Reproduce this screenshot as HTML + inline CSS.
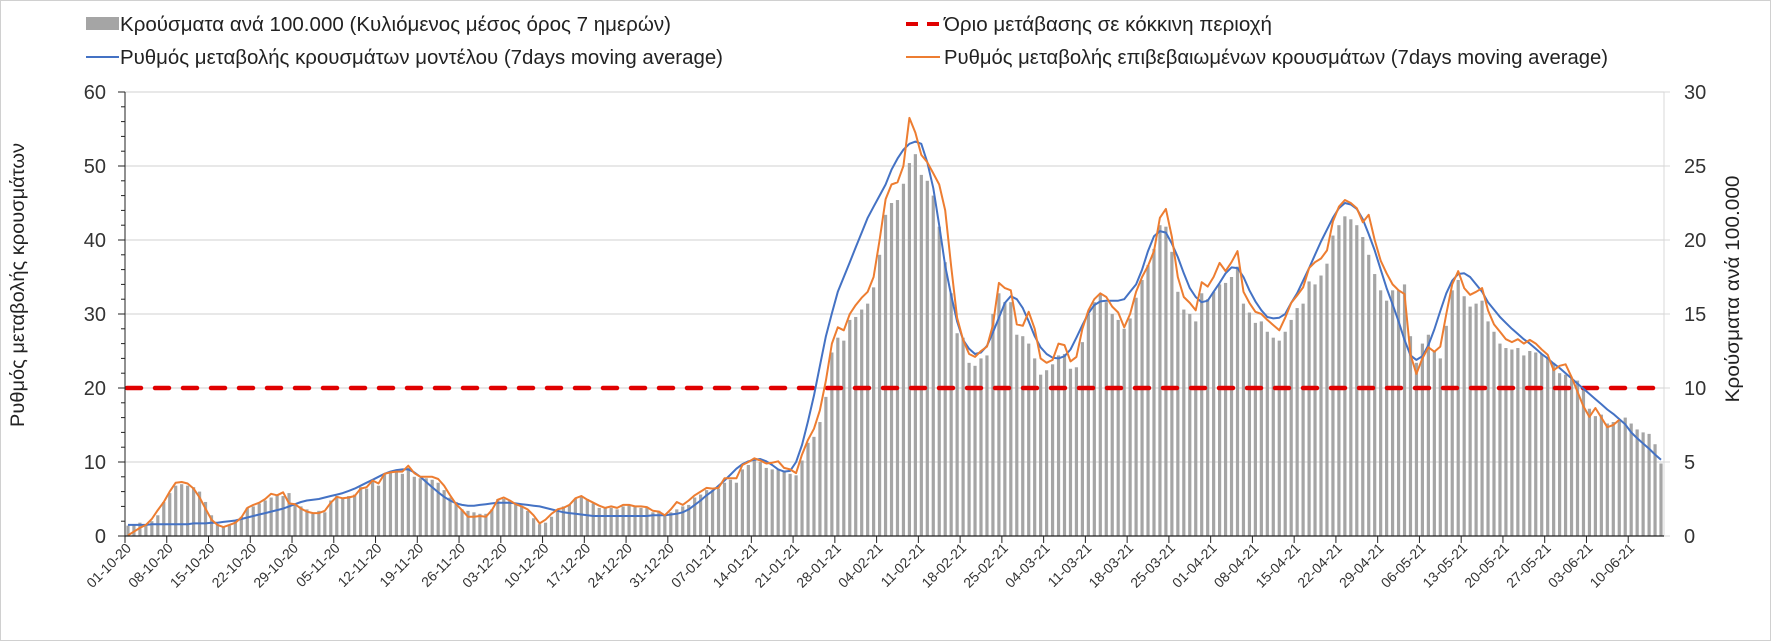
<!DOCTYPE html>
<html><head><meta charset="utf-8">
<style>
html,body{margin:0;padding:0;background:#fff;}
svg{display:block;font-family:"Liberation Sans","DejaVu Sans",sans-serif;}
</style></head>
<body>
<svg id="chart" width="1771" height="641" viewBox="0 0 1771 641" xmlns="http://www.w3.org/2000/svg">
<rect x="0.5" y="0.5" width="1770" height="640" fill="#fff" stroke="#d0d0d0"/>
<g id="legend">
 <g>
  <rect x="86" y="17" width="33" height="13" fill="#a5a5a5"/>
  <text x="120" y="31" font-size="20" textLength="551" lengthAdjust="spacingAndGlyphs" fill="#222">Κρούσματα ανά 100.000 (Κυλιόμενος μέσος όρος 7 ημερών)</text>
 </g>
 <g>
  <line x1="906" y1="24" x2="940" y2="24" stroke="#e00000" stroke-width="4" stroke-dasharray="12,9"/>
  <text x="944" y="31" font-size="20" textLength="328" lengthAdjust="spacingAndGlyphs" fill="#222">Όριο μετάβασης σε κόκκινη περιοχή</text>
 </g>
 <g>
  <line x1="86" y1="57" x2="119" y2="57" stroke="#4472c4" stroke-width="2"/>
  <text x="120" y="64" font-size="20" textLength="603" lengthAdjust="spacingAndGlyphs" fill="#222">Ρυθμός μεταβολής κρουσμάτων μοντέλου (7days moving average)</text>
 </g>
 <g>
  <line x1="906" y1="57" x2="940" y2="57" stroke="#ed7d31" stroke-width="2"/>
  <text x="944" y="64" font-size="20" textLength="664" lengthAdjust="spacingAndGlyphs" fill="#222">Ρυθμός μεταβολής επιβεβαιωμένων κρουσμάτων (7days moving average)</text>
 </g>
</g>
<text transform="translate(24,285) rotate(-90)" text-anchor="middle" font-size="19" textLength="284" lengthAdjust="spacingAndGlyphs" fill="#222">Ρυθμός μεταβολής κρουσμάτων</text>
<text transform="translate(1739,289) rotate(-90)" text-anchor="middle" font-size="19" textLength="227" lengthAdjust="spacingAndGlyphs" fill="#222">Κρούσματα ανά 100.000</text>
<g id="grid"></g>
<g id="bars"></g>
<g id="lines"></g>
<g id="axes"></g>
</svg>
<script>
const leftTicks=[0,10,20,30,40,50,60];
const rightTicks=[0,5,10,15,20,25,30];
const dateLabels=["01-10-20","08-10-20","15-10-20","22-10-20","29-10-20","05-11-20","12-11-20","19-11-20","26-11-20","03-12-20","10-12-20","17-12-20","24-12-20","31-12-20","07-01-21","14-01-21","21-01-21","28-01-21","04-02-21","11-02-21","18-02-21","25-02-21","04-03-21","11-03-21","18-03-21","25-03-21","01-04-21","08-04-21","15-04-21","22-04-21","29-04-21","06-05-21","13-05-21","20-05-21","27-05-21","03-06-21","10-06-21"];
const redThreshold=20;
const casesPer100k=[0.7,0.8,0.9,0.8,1.0,1.4,2.3,
2.9,3.4,3.5,3.4,3.3,3.0,2.3,
1.4,0.8,0.6,0.7,1.0,1.3,1.9,
2.0,2.2,2.4,2.6,2.8,2.7,2.9,
2.2,2.0,1.8,1.5,1.7,1.6,2.4,
2.7,2.6,2.7,2.8,3.3,3.2,3.7,
3.4,4.2,4.3,4.3,4.2,4.6,4.0,
3.9,3.9,3.8,3.6,3.1,2.6,2.3,
1.8,1.7,1.6,1.5,1.5,1.8,2.5,
2.5,2.4,2.2,2.0,1.7,1.2,0.8,
0.9,1.3,1.8,2.0,2.1,2.5,2.7,
2.5,2.2,1.9,1.9,1.9,1.8,2.0,
2.1,2.0,1.9,1.9,1.6,1.7,1.4,
1.6,1.8,2.0,2.1,2.6,2.8,3.1,
3.1,3.2,3.6,3.8,3.6,4.5,4.8,
5.1,5.0,4.6,4.5,4.5,4.4,4.2,
4.1,5.1,6.3,6.7,7.7,9.4,12.4,
13.4,13.2,14.6,14.8,15.3,15.7,16.8,
19.0,21.7,22.5,22.7,23.8,25.2,25.8,
24.4,24.0,23.0,20.9,18.5,16.4,13.7,
13.4,11.7,11.5,12.0,12.2,15.0,16.4,
15.8,15.8,13.6,13.5,13.0,12.0,10.9,
11.2,11.6,12.2,12.3,11.3,11.4,13.1,
15.0,15.8,16.3,15.8,15.0,14.6,14.0,
14.7,16.1,17.3,18.3,19.4,21.0,20.9,
19.2,16.5,15.3,15.0,14.5,16.4,16.0,
16.5,17.0,17.1,17.5,18.2,15.7,15.1,
14.4,14.5,13.8,13.4,13.2,13.8,14.6,
15.4,15.7,17.2,17.0,17.6,18.4,20.3,
21.0,21.6,21.4,21.0,20.2,19.0,17.7,
16.6,15.9,16.6,16.6,17.0,13.5,11.7,
13.0,13.6,12.5,12.0,14.2,16.6,17.3,
16.2,15.5,15.7,15.9,14.5,13.8,13.0,
12.7,12.6,12.7,12.2,12.5,12.4,12.3,
12.0,11.7,11.0,10.9,10.6,10.5,10.0,
8.6,8.1,8.2,7.6,7.7,7.8,8.0,
7.6,7.2,7.0,6.9,6.2,4.9];
const modelRate=[1.5,1.5,1.5,1.5,1.6,1.6,1.6,1.6,1.6,1.6,1.6,1.7,1.7,1.7,
1.8,1.8,1.9,2.0,2.1,2.3,2.5,2.7,2.9,3.1,3.3,3.5,3.7,4.0,
4.3,4.6,4.8,4.9,5.0,5.2,5.4,5.6,5.8,6.1,6.4,6.8,7.2,7.6,
8.0,8.4,8.7,8.9,9.0,9.0,8.6,8.0,7.3,6.6,5.9,5.3,4.8,4.4,
4.2,4.1,4.1,4.2,4.3,4.4,4.5,4.5,4.5,4.4,4.3,4.2,4.1,4.0,
3.8,3.6,3.4,3.2,3.1,3.0,2.9,2.8,2.7,2.7,2.7,2.7,2.7,2.7,
2.7,2.7,2.7,2.7,2.8,2.8,2.8,2.9,3.0,3.2,3.6,4.2,4.8,5.5,
6.1,6.8,7.5,8.3,9.1,9.7,10.1,10.3,10.4,10.1,9.6,9.0,8.7,8.8,
10.0,12.3,15.5,19.0,23.0,27.0,30.1,33.0,35.0,37.0,39.0,41.0,43.0,44.5,
46.0,47.5,49.5,51.0,52.2,53.0,53.3,53.0,50.5,47.0,42.0,36.5,32.5,29.0,
26.5,25.3,24.6,24.8,25.7,27.5,29.5,31.5,32.4,32.0,30.8,29.0,27.0,25.5,
24.6,24.1,24.0,24.3,25.2,26.8,28.5,30.1,31.2,31.7,31.8,31.8,31.8,32.0,
33.0,34.0,36.0,38.5,40.5,41.2,41.0,39.5,37.7,35.5,33.5,32.3,31.6,31.8,
33.0,34.2,35.5,36.3,36.2,35.0,33.2,31.7,30.5,29.6,29.4,29.5,30.0,31.5,
32.8,34.5,36.2,38.0,39.8,41.4,43.0,44.3,45.0,44.8,44.2,42.8,40.8,38.6,
36.0,33.5,31.3,29.0,26.5,24.4,23.8,24.3,25.8,27.9,30.4,32.8,34.5,35.4,
35.5,35.0,34.0,33.0,31.6,30.6,29.6,28.8,28.0,27.3,26.6,26.0,25.3,24.6,
24.0,23.3,22.7,22.0,21.3,20.6,19.9,19.2,18.5,17.8,17.1,16.5,15.8,15.1,
14.0,13.2,12.5,11.8,11.0,10.3];
const confirmedRate=[0.1,0.6,1.1,1.5,2.3,3.5,4.6,6.0,7.2,7.3,7.1,6.4,5.2,3.7,
2.2,1.5,1.2,1.5,1.8,2.5,3.8,4.2,4.5,5.0,5.7,5.5,5.9,4.4,
4.3,3.7,3.3,3.1,3.1,3.4,4.5,5.3,5.1,5.2,5.4,6.4,6.6,7.5,
7.1,8.4,8.6,8.7,8.7,9.5,8.5,8.0,8.0,8.0,7.7,6.8,5.5,4.3,
3.5,2.6,2.6,2.7,2.6,3.5,4.9,5.2,4.8,4.3,4.0,3.6,2.8,1.7,
2.2,3.0,3.6,3.8,4.2,5.1,5.4,4.9,4.5,4.1,3.8,4.0,3.8,4.2,
4.2,4.0,4.0,3.9,3.4,3.3,2.8,3.6,4.6,4.2,4.8,5.5,6.0,6.5,
6.4,6.5,7.8,7.8,7.8,9.6,10.0,10.5,10.2,9.8,9.9,10.1,9.2,9.0,
8.5,11.0,13.0,14.5,17.0,21.0,26.0,28.2,27.8,30.0,31.2,32.2,33.0,35.0,
40.0,45.5,47.5,47.8,50.0,56.5,54.5,51.5,50.5,49.0,47.5,44.0,36.4,29.5,
26.5,24.6,24.2,25.0,25.6,28.5,34.2,33.5,33.2,28.6,28.4,30.3,28.0,24.0,
23.4,23.8,26.0,25.8,23.6,24.2,28.0,30.5,32.0,32.8,32.3,31.0,30.2,28.2,
30.0,33.0,35.0,36.5,38.5,43.0,44.2,40.4,35.0,32.3,31.5,30.5,34.3,33.7,
35.0,36.9,35.8,37.0,38.5,33.0,31.5,30.3,30.0,29.2,28.5,27.8,29.5,31.5,
32.5,33.6,36.2,37.0,37.5,38.6,42.5,44.5,45.4,45.0,44.3,42.4,43.4,40.0,
37.2,35.5,34.0,33.2,32.7,24.5,21.9,24.0,25.5,24.9,25.6,30.0,34.0,35.8,
33.5,32.6,33.0,33.5,30.5,28.6,27.6,26.6,26.2,26.6,26.0,26.5,26.0,25.2,
24.5,22.4,23.0,23.2,21.5,19.5,17.5,16.1,17.3,16.0,14.7,15.0,15.7];

const NS="http://www.w3.org/2000/svg";
const X0=125,X1=1664,YT=92,YB=536;
const N=casesPer100k.length;
const W=(X1-X0)/N;
function xCat(i){return X0+(i+0.5)*W;}
function xTick(i){return X0+i*W;}
function yL(v){return YB-(v/60)*(YB-YT);}
function yR(v){return YB-(v/30)*(YB-YT);}
function mk(tag,attrs,parent){const e=document.createElementNS(NS,tag);for(const k in attrs)e.setAttribute(k,attrs[k]);parent.appendChild(e);return e;}
const grid=document.getElementById('grid'),bars=document.getElementById('bars'),lines=document.getElementById('lines'),axes=document.getElementById('axes');

leftTicks.forEach(v=>{
 if(v>0){const g=mk('line',{x1:X0,x2:X1,y1:yL(v),y2:yL(v),stroke:'#d9d9d9','stroke-width':1.3},grid);
 
 }
 const t=mk('text',{x:106,y:yL(v)+7,'text-anchor':'end','font-size':20,fill:'#333'},axes);
 t.textContent=v;
 
 
 mk('line',{x1:X0-7,x2:X0,y1:yL(v),y2:yL(v),stroke:'#222','stroke-width':1},axes);
});
for(let v=0;v<=60;v+=2){mk('line',{x1:X0-4,x2:X0,y1:yL(v),y2:yL(v),stroke:'#222','stroke-width':1},axes);}
rightTicks.forEach(v=>{
 const t=mk('text',{x:1684,y:yR(v)+7,'font-size':20,fill:'#333'},axes);
 t.textContent=v;
 
 
 mk('line',{x1:X1,x2:X1+6,y1:yR(v),y2:yR(v),stroke:'#d9d9d9','stroke-width':1},axes);
});
mk('line',{x1:X1,x2:X1,y1:YT,y2:YB,stroke:'#d9d9d9','stroke-width':1},axes);

casesPer100k.forEach((v,i)=>{
 const r=mk('rect',{x:xCat(i)-1.6,y:yR(v),width:3.2,height:YB-yR(v),fill:'#a5a5a5'},bars);
 
 
});

const thr=mk('line',{x1:X0+2,x2:X1,y1:yL(redThreshold),y2:yL(redThreshold),stroke:'#e00000','stroke-width':4.5,'stroke-dasharray':'14,14','stroke-linecap':'round'},lines);



function path(arr,color,name){
 const d=arr.map((v,i)=>(i?'L':'M')+xCat(i).toFixed(1)+','+yL(v).toFixed(1)).join(' ');
 const p=mk('path',{d:d,fill:'none',stroke:color,'stroke-width':2,'stroke-linejoin':'round'},lines);
 
 
}
path(modelRate,'#4472c4','model-rate-line');
path(confirmedRate,'#ed7d31','confirmed-rate-line');

mk('line',{x1:X0,x2:X0,y1:YT,y2:YB,stroke:'#222','stroke-width':1},axes);
mk('line',{x1:X0,x2:X1,y1:YB,y2:YB,stroke:'#222','stroke-width':1.3},axes);
dateLabels.forEach((lab,k)=>{
 const xt=xTick(k*7);
 mk('line',{x1:xt,x2:xt,y1:YB,y2:YB+7,stroke:'#222','stroke-width':1},axes);
 const t=mk('text',{x:0,y:0,'text-anchor':'end','font-size':14,fill:'#333',transform:'translate('+(xt+7)+','+(YB+13)+') rotate(-45)'},axes);
 t.textContent=lab;
 
 
});
</script>
</body></html>
